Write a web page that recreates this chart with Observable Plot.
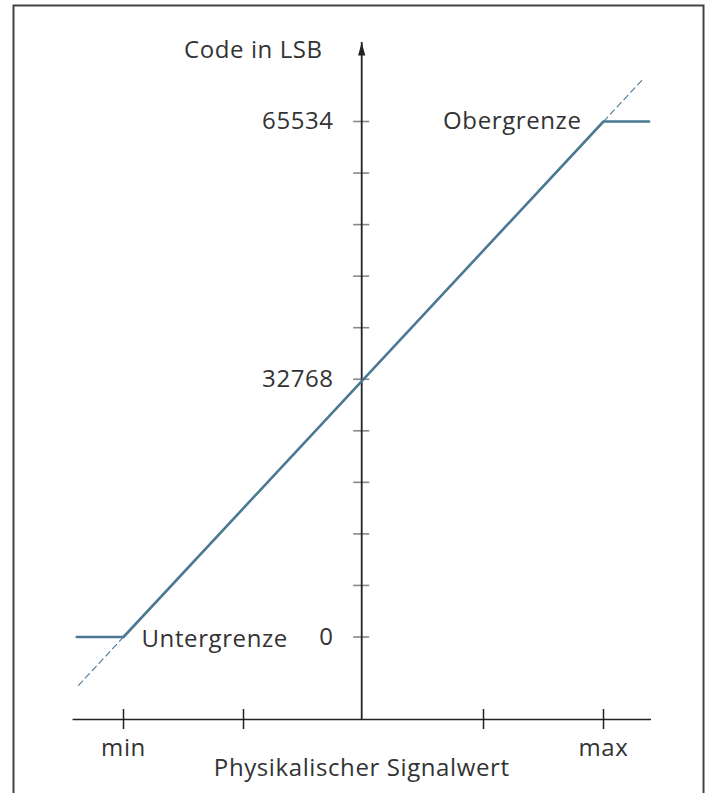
<!DOCTYPE html>
<html>
<head>
<meta charset="utf-8">
<script src="https://cdn.jsdelivr.net/npm/d3@7"></script>
<script src="https://cdn.jsdelivr.net/npm/@observablehq/plot@0.6"></script>
<style>
  html, body { margin: 0; padding: 0; background: #fff; }
  #chart { width: 710px; height: 793px; overflow: hidden; }
  #chart svg text { letter-spacing: 0.6px; }
</style>
</head>
<body>
<div id="chart"></div>
<script>
// ---- data ----
// physical signal value in units of x-axis tick steps (min = -2, max = 2)
const xTicks = [-2, -1, 1, 2];
const xTickLabels = ["min", "max"];
const xLabelPos = [-2, 2];
const xAxisTitle = "Physikalischer Signalwert";
const yAxisTitle = "Code in LSB";

// code values
const yTickStep = 6553.4;
const yTicks = d3.range(0, 11).map(i => i * yTickStep);
const yLabelValues = [0, 32768, 65534];
const yLabelTexts = ["0", "32768", "65534"];

// transfer characteristic (solid, clipped)
const signalX = [-2.39, -2, 2, 2.38];
const signalCode = [0, 0, 65534, 65534];
// ideal (unclipped) continuation, dashed
const lowDashX = [-2, -2.39];
const lowDashCode = [0, -6390];
const highDashX = [2, 2.34];
const highDashCode = [65534, 71104];

const lowerName = "Untergrenze";
const upperName = "Obergrenze";

// axis extents (data units)
const yAxisAt = -0.015;
const axisBottom = -10485;
const arrowTop = 75565;
const xAxisStart = -2.42;
const xAxisEnd = 2.4;

const signal = signalX.map((x, i) => ({x, y: signalCode[i]}));
const lowDash = lowDashX.map((x, i) => ({x, y: lowDashCode[i]}));
const highDash = highDashX.map((x, i) => ({x, y: highDashCode[i]}));

const FONT = "'Open Sans', 'Noto Sans', sans-serif";
const TEXT = "#333";
const LINE = "#4b7893";
const FS = 24;

const arrowHead = {
  draw(context) {
    context.moveTo(0, 0);
    context.lineTo(3.6, 13);
    context.lineTo(-3.6, 13);
    context.closePath();
  }
};

const tickHalfX = 0.067;   // half-width of y ticks, in x units
const tickHalfY = 1271;    // half-height of x ticks, in code units

const plot = Plot.plot({
  width: 710,
  height: 793,
  margin: 0,
  x: {domain: [-363 / 120, 347 / 120], range: [0, 710], axis: null},
  y: {domain: [-19896, 80917], range: [793, 0], axis: null},
  style: {fontFamily: FONT, background: "#fff"},
  marks: [
    Plot.frame({stroke: "#444", strokeWidth: 2, insetLeft: 13, insetRight: 7, insetTop: 5, insetBottom: -10}),
    // x axis
    Plot.ruleY([axisBottom], {x1: xAxisStart, x2: xAxisEnd, stroke: "#222", strokeWidth: 1.5}),
    Plot.ruleX(xTicks, {y1: axisBottom - tickHalfY, y2: axisBottom + tickHalfY, stroke: "#222", strokeWidth: 1.5}),
    // y ticks
    Plot.ruleY(yTicks, {x1: yAxisAt - tickHalfX, x2: yAxisAt + tickHalfX, stroke: "#888", strokeWidth: 1.6}),
    // y axis
    Plot.ruleX([yAxisAt], {y1: axisBottom, y2: arrowTop, stroke: "#222", strokeWidth: 1.8}),
    Plot.dot([{x: yAxisAt, y: arrowTop}], {x: "x", y: "y", symbol: arrowHead, fill: "#222", stroke: null, r: 4}),
    // dashed ideal line
    Plot.line(lowDash, {x: "x", y: "y", stroke: LINE, strokeWidth: 1.1, strokeDasharray: "6,4"}),
    Plot.line(highDash, {x: "x", y: "y", stroke: LINE, strokeWidth: 1.1, strokeDasharray: "6,4"}),
    // transfer line
    Plot.line(signal, {x: "x", y: "y", stroke: LINE, strokeWidth: 2.6}),
    // texts
    Plot.text(yLabelValues, {x: yAxisAt, y: d => d, text: (d, i) => yLabelTexts[i], dx: -28, textAnchor: "end", fontSize: FS, fill: TEXT}),
    Plot.text([yAxisTitle], {x: yAxisAt, y: arrowTop, text: d => d, dx: -39, dy: 8, textAnchor: "end", fontSize: FS, fill: TEXT}),
    Plot.text([upperName], {x: 2, y: 65534, text: d => d, dx: -22, textAnchor: "end", fontSize: FS, fill: TEXT}),
    Plot.text([lowerName], {x: -2, y: 0, text: d => d, dx: 18, dy: 2, textAnchor: "start", fontSize: FS, fill: TEXT}),
    Plot.text(xLabelPos, {x: d => d, y: axisBottom, text: (d, i) => xTickLabels[i], dy: 29, fontSize: FS, fill: TEXT}),
    Plot.text([xAxisTitle], {x: yAxisAt, y: axisBottom, text: d => d, dy: 49, fontSize: FS, fill: TEXT})
  ]
});
document.getElementById("chart").appendChild(plot);
</script>
</body>
</html>
